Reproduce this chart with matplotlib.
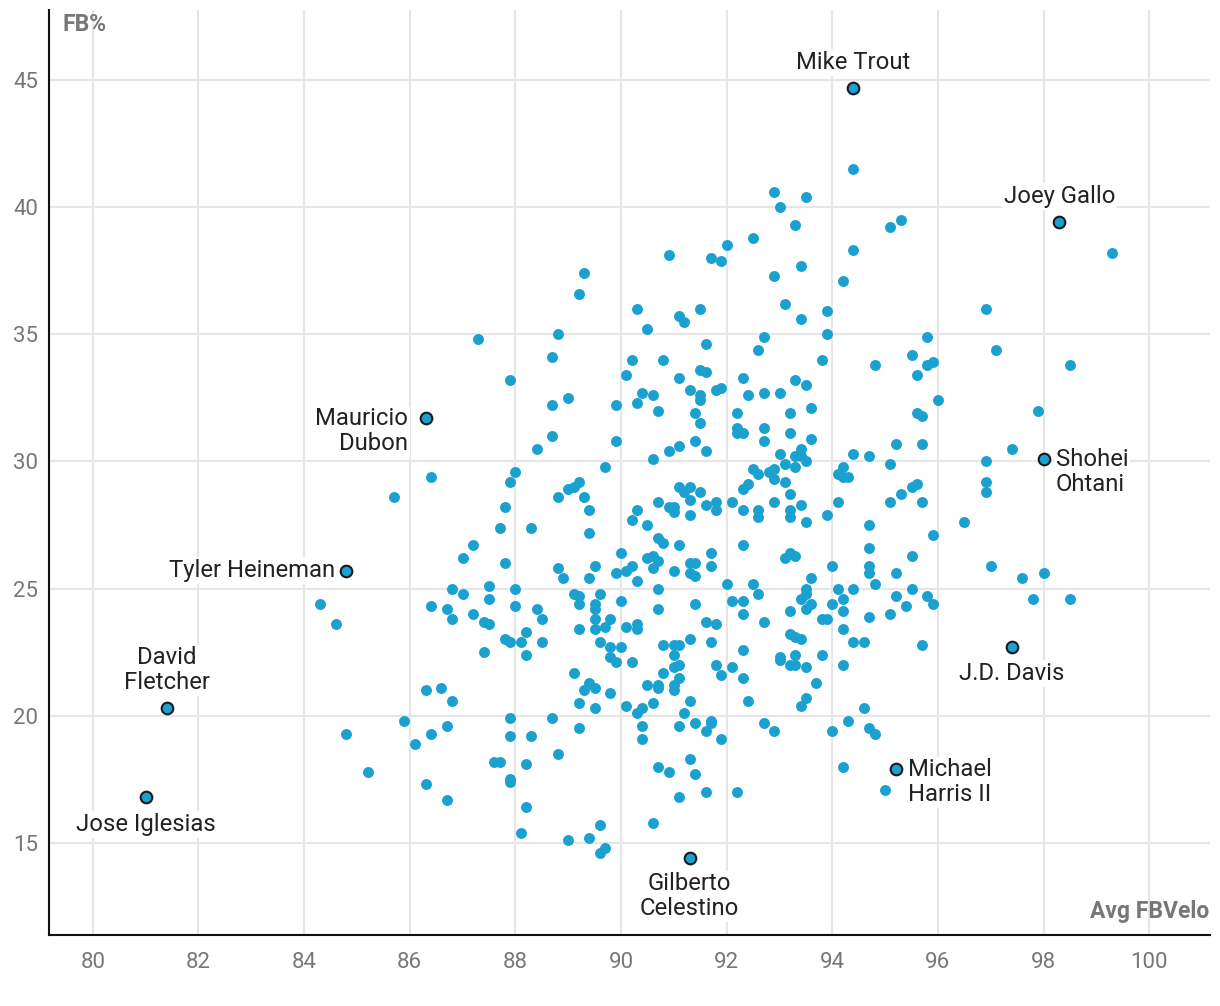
import matplotlib
matplotlib.use("Agg")
import matplotlib.pyplot as plt

plt.rcParams['font.family'] = ['Roboto', 'DejaVu Sans']

# Average fastball velocity (x) and FB% (y) for the unlabeled players
velo = [
    87.3, 88.8, 88.7, 87.9, 89.0, 92.9, 93.5, 93.0, 93.3, 92.5,
    92.0, 90.9, 91.7, 91.9, 93.4, 89.3, 92.9, 89.2, 93.1, 90.3,
    91.5, 91.1, 91.2, 93.4, 93.9, 90.5, 93.9, 92.7, 91.6, 92.6,
    90.2, 90.8, 93.8, 90.1, 91.1, 91.5, 91.6, 92.3, 93.3, 93.5,
    90.4, 90.6, 91.3, 91.5, 91.8, 91.9, 92.4, 92.7, 93.0, 90.3,
    94.4, 95.3, 95.1, 94.4, 99.3, 94.2, 96.9, 95.8, 97.1, 94.8,
    95.5, 95.8, 95.9, 95.6, 98.5, 96.0, 86.4, 85.7, 88.7, 88.7,
    88.4, 88.0, 87.9, 89.0, 88.8, 87.8, 87.7, 88.3, 87.2, 87.0,
    87.8, 88.8, 88.9, 86.8, 87.5, 88.0, 87.0, 87.5, 86.4, 86.7,
    86.8, 87.2, 87.4, 87.5, 88.0, 88.4, 88.5, 88.2, 87.8, 87.9,
    88.1, 88.5, 87.4, 84.3, 84.6, 89.9, 91.5, 90.7, 91.4, 91.5,
    92.2, 92.2, 92.2, 92.3, 92.7, 92.7, 93.2, 93.6, 93.2, 93.6,
    89.9, 91.4, 91.6, 91.1, 90.9, 90.6, 89.7, 93.0, 93.4, 93.3,
    93.4, 93.5, 93.3, 93.1, 92.5, 92.6, 92.8, 92.9, 92.9, 93.1,
    92.4, 92.3, 93.2, 89.2, 89.1, 89.3, 89.4, 89.4, 91.1, 91.3,
    91.2, 91.3, 91.5, 90.7, 90.9, 91.0, 91.0, 91.3, 91.6, 91.8,
    91.8, 92.1, 92.3, 92.6, 92.6, 92.9, 93.2, 93.2, 93.4, 93.5,
    93.9, 90.3, 90.2, 90.5, 90.7, 90.8, 91.1, 92.3, 90.0, 89.5,
    89.4, 89.9, 90.1, 90.2, 90.5, 90.6, 90.7, 90.6, 91.0, 90.3,
    91.3, 91.4, 91.3, 91.4, 91.7, 91.7, 90.7, 92.0, 92.5, 92.6,
    93.1, 93.2, 93.3, 93.6, 93.5, 93.5, 93.4, 93.6, 93.5, 94.0,
    89.1, 89.2, 89.2, 89.6, 89.5, 89.5, 90.0, 90.7, 91.4, 92.1,
    92.3, 92.3, 92.7, 93.2, 89.5, 89.8, 89.7, 89.2, 89.5, 90.1,
    90.3, 90.3, 91.6, 91.8, 93.8, 93.9, 93.2, 93.3, 93.4, 89.6,
    89.8, 90.0, 90.8, 91.0, 91.1, 91.3, 91.7, 92.3, 97.9, 95.6,
    95.7, 95.2, 95.7, 97.4, 94.4, 94.7, 95.1, 96.9, 94.2, 94.1,
    94.2, 94.3, 96.9, 96.9, 95.5, 95.6, 95.3, 94.1, 95.1, 95.7,
    94.7, 96.5, 95.9, 94.7, 95.5, 94.7, 94.7, 95.2, 97.0, 98.0,
    97.6, 94.8, 94.1, 94.4, 95.5, 95.2, 95.8, 95.9, 94.2, 94.0,
    95.4, 97.8, 98.5, 94.2, 95.1, 94.7, 94.2, 94.4, 94.6, 95.7,
    88.2, 89.1, 86.3, 86.6, 86.8, 85.9, 84.8, 86.4, 86.7, 86.1,
    87.9, 88.7, 87.9, 88.3, 88.8, 87.6, 87.7, 88.2, 85.2, 87.9,
    87.9, 86.3, 86.7, 88.2, 88.1, 89.0, 89.8, 89.9, 90.2, 91.0,
    93.0, 93.0, 93.2, 93.3, 93.3, 93.5, 93.8, 91.0, 91.1, 91.8,
    92.1, 91.9, 92.3, 90.8, 91.1, 89.4, 89.3, 89.5, 89.8, 90.5,
    90.7, 90.7, 91.0, 91.0, 91.3, 93.7, 93.5, 93.4, 92.4, 89.2,
    89.5, 90.1, 90.4, 90.3, 90.6, 91.2, 89.2, 90.4, 90.4, 91.1,
    91.4, 91.7, 91.7, 91.6, 91.9, 92.7, 92.9, 90.7, 90.9, 91.3,
    91.4, 91.6, 92.2, 91.1, 90.6, 89.6, 89.4, 89.7, 89.6, 94.2,
    94.6, 94.3, 94.0, 94.7, 94.8, 94.2, 95.0,
]
fb_pct = [
    34.8, 35.0, 34.1, 33.2, 32.5, 40.6, 40.4, 40.0, 39.3, 38.8,
    38.5, 38.1, 38.0, 37.9, 37.7, 37.4, 37.3, 36.6, 36.2, 36.0,
    36.0, 35.7, 35.5, 35.6, 35.9, 35.2, 35.0, 34.9, 34.6, 34.4,
    34.0, 34.0, 34.0, 33.4, 33.3, 33.6, 33.5, 33.3, 33.2, 33.0,
    32.7, 32.6, 32.8, 32.6, 32.8, 32.9, 32.6, 32.7, 32.7, 32.3,
    41.5, 39.5, 39.2, 38.3, 38.2, 37.1, 36.0, 34.9, 34.4, 33.8,
    34.2, 33.8, 33.9, 33.4, 33.8, 32.4, 29.4, 28.6, 32.2, 31.0,
    30.5, 29.6, 29.2, 28.9, 28.6, 28.2, 27.4, 27.4, 26.7, 26.2,
    26.0, 25.8, 25.4, 25.0, 25.1, 25.0, 24.8, 24.6, 24.3, 24.2,
    23.8, 24.0, 23.7, 23.6, 24.3, 24.2, 23.8, 23.3, 23.0, 22.9,
    22.9, 22.9, 22.5, 24.4, 23.6, 32.2, 32.4, 32.0, 31.9, 31.5,
    31.9, 31.3, 31.1, 31.1, 31.3, 30.8, 31.9, 32.1, 31.1, 30.9,
    30.8, 30.8, 30.4, 30.6, 30.4, 30.1, 29.8, 30.3, 30.5, 30.2,
    30.2, 30.0, 29.8, 29.9, 29.7, 29.5, 29.6, 29.7, 29.3, 29.2,
    29.1, 28.9, 28.7, 29.2, 29.0, 28.6, 28.1, 27.2, 29.0, 29.0,
    28.8, 28.5, 28.8, 28.4, 28.2, 28.2, 28.0, 27.9, 28.3, 28.4,
    28.1, 28.4, 28.1, 28.1, 27.8, 28.4, 28.1, 27.8, 28.3, 27.6,
    27.9, 28.1, 27.7, 27.5, 27.0, 26.8, 26.7, 26.7, 26.4, 25.9,
    25.4, 25.6, 25.7, 25.9, 26.2, 26.3, 26.1, 25.8, 25.7, 25.3,
    26.0, 26.0, 25.6, 25.5, 26.4, 25.9, 25.0, 25.2, 25.2, 24.8,
    26.2, 26.4, 26.3, 25.4, 25.0, 24.8, 24.6, 24.4, 24.2, 25.9,
    24.8, 24.7, 24.4, 24.8, 24.4, 24.2, 24.5, 24.2, 24.4, 24.5,
    24.5, 24.0, 23.7, 24.1, 23.8, 23.8, 23.5, 23.4, 23.4, 23.5,
    23.6, 23.4, 23.7, 23.6, 23.8, 23.8, 23.2, 23.1, 23.0, 22.9,
    22.7, 22.7, 22.8, 22.8, 22.8, 23.0, 22.9, 22.6, 32.0, 31.9,
    31.8, 30.7, 30.7, 30.5, 30.3, 30.2, 29.9, 30.0, 29.8, 29.5,
    29.4, 29.4, 29.2, 28.8, 29.0, 29.1, 28.7, 28.4, 28.4, 28.4,
    27.5, 27.6, 27.1, 26.6, 26.3, 25.9, 25.6, 25.6, 25.9, 25.6,
    25.4, 25.2, 25.0, 25.0, 25.0, 24.7, 24.7, 24.4, 24.6, 24.4,
    24.3, 24.6, 24.6, 24.1, 24.0, 23.9, 23.4, 22.9, 22.9, 22.8,
    22.4, 21.7, 21.0, 21.1, 20.6, 19.8, 19.3, 19.3, 19.6, 18.9,
    19.9, 19.9, 19.2, 19.2, 18.5, 18.2, 18.2, 18.1, 17.8, 17.5,
    17.4, 17.3, 16.7, 16.4, 15.4, 15.1, 22.3, 22.1, 22.1, 22.4,
    22.3, 22.2, 22.0, 22.4, 22.0, 21.9, 22.4, 21.9, 22.0, 22.0,
    21.9, 21.6, 21.5, 21.7, 21.5, 21.3, 21.0, 21.1, 20.9, 21.2,
    21.2, 21.1, 21.2, 21.0, 20.6, 21.3, 20.7, 20.4, 20.6, 20.5,
    20.3, 20.4, 20.3, 20.1, 20.5, 20.1, 19.5, 19.6, 19.1, 19.6,
    19.7, 19.8, 19.7, 19.4, 19.1, 19.7, 19.4, 18.0, 17.8, 18.3,
    17.7, 17.0, 17.0, 16.8, 15.8, 15.7, 15.2, 14.8, 14.6, 22.0,
    20.3, 19.8, 19.4, 19.5, 19.3, 18.0, 17.1,
]

# Labeled players
names = ["Mike Trout", "Joey Gallo", "Mauricio\nDubon", "Shohei\nOhtani",
         "Tyler Heineman", "J.D. Davis", "David\nFletcher", "Michael\nHarris II",
         "Jose Iglesias", "Gilberto\nCelestino"]
names_velo = [94.4, 98.3, 86.3, 98.0, 84.8, 97.4, 81.4, 95.2, 81.0, 91.3]
names_fb = [44.7, 39.4, 31.7, 30.1, 25.7, 22.7, 20.3, 17.9, 16.8, 14.4]
# label placement: (dx px, dy px, ha)
label_pos = [(0, 25, 'center'), (0, 26, 'center'), (-18, -13, 'right'),
             (12, -13, 'left'), (-11, 0, 'right'), (0, -26, 'center'),
             (0, 38, 'center'), (12, -13, 'left'), (0, -27, 'center'),
             (0, -38, 'center')]

x_ticks = [80, 82, 84, 86, 88, 90, 92, 94, 96, 98, 100]
y_ticks = [15, 20, 25, 30, 35, 40, 45]

BLUE = '#1ba1cf'
GREY = '#777777'

fig = plt.figure(figsize=(12.2, 10.06), dpi=100)
ax = fig.add_axes([49/1220, 1 - 935/1006, (1210 - 49)/1220, (935 - 10)/1006])

ax.scatter(velo, fb_pct, s=62, color=BLUE, linewidths=0, zorder=3)
ax.scatter(names_velo, names_fb, s=70, color=BLUE, edgecolors='#1a1a1a',
           linewidths=1.5, zorder=4)

for n, xv, yv, (dx, dy, ha) in zip(names, names_velo, names_fb, label_pos):
    ax.annotate(n, (xv, yv), xytext=(dx, dy), textcoords='offset pixels',
                ha=ha, va='center', multialignment=ha, fontsize=17.2,
                color='#222222', linespacing=1.08, zorder=5,
                bbox=dict(boxstyle='square,pad=0.08', fc='white', ec='none'))

ax.set_xlim(79.17, 101.15)
ax.set_ylim(11.38, 47.75)
ax.set_xticks(x_ticks)
ax.set_yticks(y_ticks)
ax.grid(True, color='#e6e6e6', linewidth=1.5)
ax.set_axisbelow(True)
ax.tick_params(axis='both', length=0, labelsize=16, labelcolor=GREY)
ax.tick_params(axis='x', pad=12)
ax.tick_params(axis='y', pad=8)
for s in ['top', 'right']:
    ax.spines[s].set_visible(False)
for s in ['left', 'bottom']:
    ax.spines[s].set_color('#111111')
    ax.spines[s].set_linewidth(1.5)

ax.text(0.0112, 0.984, 'FB%', transform=ax.transAxes, ha='left', va='center',
        fontsize=16.5, fontweight='bold', color=GREY)
ax.text(0.999, 0.0249, 'Avg FBVelo', transform=ax.transAxes, ha='right',
        va='center', fontsize=16.5, fontweight='bold', color=GREY)

fig.savefig('out.png', dpi=100)
